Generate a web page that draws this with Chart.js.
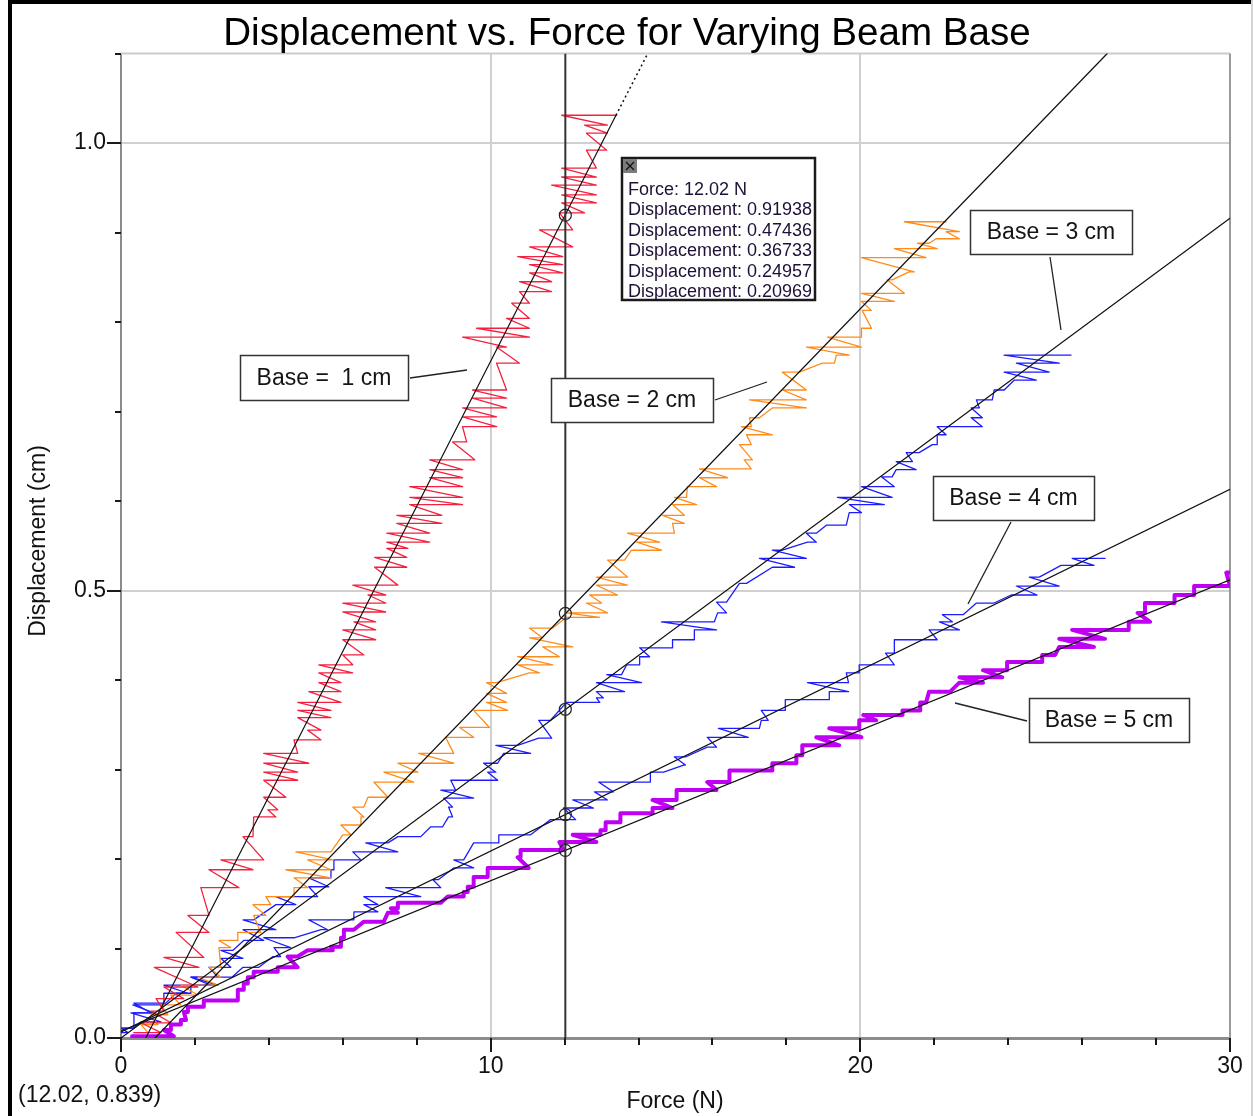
<!DOCTYPE html>
<html><head><meta charset="utf-8">
<script src="https://cdn.jsdelivr.net/npm/chart.js@4.4.1/dist/chart.umd.min.js"></script>
<style>html,body{margin:0;padding:0;background:#fff;}canvas{display:block;}</style>
</head><body>
<canvas id="c" width="1253" height="1116"></canvas>
<script>
// ---------- data ----------
const chartTitle = 'Displacement vs. Force for Varying Beam Base';
const xTitle = 'Force (N)';
const yTitle = 'Displacement (cm)';
const seriesLabels = ['Base =  1 cm', 'Base = 2 cm', 'Base = 3 cm', 'Base = 4 cm', 'Base = 5 cm'];
const cursorForce = 12.02;
const cursorDisp = [0.91938, 0.47436, 0.36733, 0.24957, 0.20969];
const readout = [12.02, 0.839];

// each level: [displacement, force at left end, force at right end]
const base1Levels = [
 [0.006,0.35,1.08],[0.017,0.54,1.35],[0.030,0.81,1.16],[0.044,0.95,1.70],
 [0.057,1.16,2.08],[0.079,0.90,2.11],[0.090,1.16,2.24],[0.118,1.49,2.38],[0.137,1.81,2.38],
 [0.168,2.16,3.19],[0.188,2.38,3.57],[0.199,2.70,3.86],[0.225,3.30,3.57],[0.247,3.59,4.19],
 [0.255,3.97,4.24],[0.269,3.86,4.46],[0.288,3.86,4.78],[0.297,3.86,4.78],[0.307,3.86,5.08],
 [0.318,3.86,4.78],[0.333,4.68,5.41],[0.344,5.05,5.41],[0.358,4.78,5.68],[0.366,4.78,5.68],
 [0.375,4.78,5.95],[0.387,5.08,5.95],[0.397,5.35,5.95],[0.408,5.35,6.27],[0.417,5.35,6.27],
 [0.428,6.00,6.57],[0.445,6.00,6.89],[0.456,6.00,6.89],[0.465,6.30,6.89],[0.476,6.00,7.16],
 [0.486,6.00,7.16],[0.495,6.68,7.16],[0.506,6.27,7.49],[0.526,6.86,7.73],[0.537,6.86,7.73],
 [0.547,7.19,7.76],[0.554,7.19,8.35],[0.564,7.19,8.35],[0.575,7.46,8.68],[0.584,7.46,8.68],
 [0.596,7.81,9.24],[0.604,7.81,9.24],[0.616,7.81,9.24],[0.626,8.35,9.24],[0.635,8.35,9.24],
 [0.646,8.35,9.57],[0.666,8.97,9.35],[0.683,9.24,10.16],[0.694,9.24,10.16],[0.704,9.24,10.43],
 [0.715,9.51,10.43],[0.724,9.51,10.43],[0.754,10.16,10.78],[0.772,10.16,10.43],[0.783,9.24,11.05],
 [0.793,9.62,11.05],[0.804,10.43,11.05],[0.821,10.57,11.05],[0.834,10.78,11.65],[0.845,10.78,11.65],
 [0.855,11.05,11.95],[0.864,11.05,11.95],[0.873,10.73,11.95],[0.884,11.05,12.22],[0.903,11.32,12.22],
 [0.922,11.86,12.54],[0.933,11.92,12.86],[0.942,11.92,12.86],[0.953,11.65,12.86],[0.962,11.92,12.86],
 [0.972,11.92,12.86],[0.992,12.59,13.14],[1.011,12.59,13.16],[1.020,12.54,13.16],[1.031,11.92,13.41]
];
const base2Levels = [
 [0.006,0.35,0.73],[0.015,0.54,1.00],[0.026,0.81,1.27],[0.037,1.08,1.62],[0.048,1.35,2.08],
 [0.059,1.62,2.62],[0.068,2.08,2.70],[0.079,2.38,2.70],[0.101,2.65,2.97],[0.109,2.65,3.16],
 [0.118,3.16,3.78],[0.137,3.59,3.92],[0.149,3.57,4.05],[0.158,3.92,4.68],[0.168,4.68,5.05],
 [0.179,4.68,5.68],[0.188,4.46,5.68],[0.199,5.05,5.73],[0.208,4.73,5.68],[0.227,6.00,6.22],
 [0.238,5.95,6.49],[0.247,6.49,6.57],[0.258,6.27,6.57],[0.269,6.68,7.22],[0.286,6.84,7.92],
 [0.297,7.11,8.03],[0.307,7.49,9.00],[0.318,8.05,9.00],[0.336,8.78,9.54],[0.347,9.16,9.97],
 [0.366,9.54,10.46],[0.375,9.89,10.43],[0.385,9.89,10.43],[0.397,9.89,10.16],[0.408,11.05,11.32],
 [0.417,10.73,11.68],[0.426,10.73,11.86],[0.437,11.41,12.22],[0.447,11.05,11.41],[0.458,11.05,11.68],
 [0.470,12.05,12.95],[0.475,12.05,13.16],[0.486,12.59,13.00],[0.495,12.68,13.43],[0.506,12.86,13.70],
 [0.515,12.86,13.70],[0.534,13.16,13.62],[0.545,13.81,14.62],[0.554,13.95,14.57],[0.564,13.70,14.97],
 [0.575,14.92,15.24],[0.584,14.65,15.24],[0.596,14.92,15.57],[0.604,14.97,15.30],[0.616,15.32,16.11],
 [0.626,15.65,16.41],[0.636,15.65,17.05],[0.646,16.86,17.08],[0.663,16.73,17.05],[0.674,16.92,17.62],
 [0.683,16.78,17.05],[0.693,17.00,17.27],[0.704,17.62,18.54],[0.713,17.00,18.54],[0.724,17.89,18.54],
 [0.744,17.89,18.35],[0.754,18.97,19.30],[0.763,19.35,19.70],[0.772,18.54,20.03],[0.783,19.11,20.03],
 [0.793,20.03,20.30],[0.813,20.05,20.30],[0.823,20.03,20.92],[0.832,20.03,21.19],[0.847,20.73,20.86],
 [0.856,21.32,21.46],[0.872,20.03,21.78],[0.882,20.92,22.08],[0.888,21.54,21.86],[0.893,22.05,22.68],
 [0.901,22.32,22.68],[0.912,21.19,22.32]
];
const base3Levels = [
 [0.006,0.00,0.19],[0.011,0.00,0.35],[0.018,0.54,1.08],[0.028,0.27,0.89],[0.037,0.32,1.16],
 [0.050,1.49,1.81],[0.059,1.16,2.43],[0.068,1.89,2.62],[0.079,2.38,2.97],[0.089,2.70,3.30],
 [0.098,2.70,3.03],[0.109,3.32,3.86],[0.121,3.30,4.19],[0.132,3.30,3.59],[0.149,4.19,4.73],
 [0.158,4.19,5.32],[0.169,5.08,5.62],[0.179,5.08,5.68],[0.188,5.68,5.76],[0.199,5.76,6.49],
 [0.208,6.27,7.49],[0.218,6.62,7.22],[0.225,7.49,8.11],[0.236,8.38,8.70],[0.247,8.86,8.97],
 [0.258,8.86,8.97],[0.268,8.73,9.54],[0.277,8.65,9.05],[0.288,8.92,10.19],[0.297,9.92,10.14],
 [0.307,9.81,10.19],[0.318,10.35,11.08],[0.327,10.14,10.73],[0.335,11.30,11.65],[0.355,11.30,11.62],
 [0.375,12.05,12.95],[0.380,12.86,13.05],[0.387,12.86,13.62],[0.397,12.86,14.08],[0.406,13.14,13.54],
 [0.417,13.68,14.03],[0.426,14.03,14.30],[0.436,14.03,14.92],[0.445,14.92,15.51],[0.456,15.51,16.11],
 [0.465,14.62,16.05],[0.475,16.14,16.38],[0.487,16.11,16.38],[0.508,16.73,16.92],[0.526,17.62,18.22],
 [0.536,17.27,18.54],[0.545,17.62,17.89],[0.554,18.57,18.81],[0.564,18.54,18.81],[0.573,19.08,19.62],
 [0.587,19.70,20.03],[0.596,19.70,20.65],[0.604,19.38,20.86],[0.616,20.03,20.92],[0.627,20.57,20.86],
 [0.635,20.97,21.51],[0.644,20.97,21.41],[0.654,21.24,21.59],[0.663,21.95,22.08],[0.674,22.08,22.32],
 [0.683,22.08,23.30],[0.693,23.00,23.30],[0.704,23.00,23.22],[0.713,23.14,23.57],[0.724,23.62,23.89],
 [0.735,24.16,24.76],[0.744,23.89,25.11],[0.754,24.22,25.38],[0.763,23.89,25.70]
];
const base4Levels = [
 [0.011,0.00,0.35],[0.028,0.35,0.81],[0.039,0.35,1.16],[0.050,1.16,1.89],[0.059,1.89,2.62],
 [0.068,1.89,3.00],[0.079,3.30,3.73],[0.091,4.11,4.32],[0.101,4.14,4.59],[0.112,3.86,4.68],
 [0.121,5.41,5.59],[0.132,5.08,6.30],[0.141,6.30,6.95],[0.149,6.57,6.95],[0.158,6.57,8.11],
 [0.168,7.16,8.65],[0.177,8.43,8.59],[0.190,9.00,9.54],[0.199,9.00,9.27],[0.218,9.54,10.22],
 [0.227,10.22,11.08],[0.244,11.62,12.30],[0.257,11.97,12.78],[0.266,12.22,13.16],[0.275,12.81,13.32],
 [0.286,12.92,14.32],[0.297,14.32,14.68],[0.305,15.22,15.27],[0.314,14.97,15.27],[0.325,15.86,16.11],
 [0.336,15.86,16.97],[0.346,16.16,17.27],[0.355,17.32,17.51],[0.366,17.32,17.97],[0.378,17.97,19.16],
 [0.387,19.16,19.68],[0.397,18.57,19.68],[0.408,19.62,19.97],[0.417,19.97,20.92],[0.430,20.68,20.92],
 [0.445,20.92,22.08],[0.456,21.86,22.68],[0.465,22.14,22.49],[0.473,22.22,22.78],[0.486,23.14,23.62],
 [0.495,24.08,24.78],[0.505,24.22,25.38],[0.515,24.57,24.84],[0.528,25.43,26.32],[0.536,25.73,26.62]
];
const base5Levels = [
 [0.002,0.30,1.43],[0.009,1.16,1.35],[0.015,1.35,1.62],[0.020,1.62,1.76],[0.029,1.70,1.81],
 [0.035,1.81,2.24],[0.042,2.24,3.16],[0.054,3.16,3.32],[0.061,3.32,3.43],[0.068,3.43,3.59],
 [0.074,3.59,4.24],[0.079,4.24,4.78],[0.091,4.51,4.78],[0.098,5.05,5.73],[0.102,5.68,5.95],
 [0.112,5.95,6.03],[0.121,6.03,6.30],[0.130,6.57,7.11],[0.140,7.22,7.49],[0.145,7.30,7.49],
 [0.151,7.49,8.65],[0.158,8.84,9.27],[0.163,9.27,9.38],[0.169,9.38,9.54],[0.180,9.54,9.92],
 [0.190,9.92,11.03],[0.202,10.73,10.81],[0.210,10.81,11.97],[0.219,11.86,12.86],[0.227,12.22,12.97],
 [0.232,12.97,13.11],[0.241,13.11,13.51],[0.251,13.51,14.38],[0.257,14.38,14.92],[0.266,14.38,15.03],
 [0.277,15.03,16.11],[0.286,15.86,16.46],[0.299,16.46,17.62],[0.307,17.62,18.27],[0.316,18.27,18.43],
 [0.327,18.43,19.43],[0.336,18.81,20.03],[0.346,19.16,19.97],[0.355,19.97,20.43],[0.361,20.08,21.14],
 [0.366,21.14,21.62],[0.375,21.62,21.78],[0.387,21.86,22.43],[0.397,22.68,23.32],[0.403,22.68,23.84],
 [0.411,23.32,23.97],[0.420,23.97,24.92],[0.428,24.92,25.27],[0.437,25.38,26.32],[0.446,25.38,26.62],
 [0.456,25.73,27.26],[0.465,27.26,27.84],[0.475,27.50,27.70],[0.486,27.70,28.50],[0.495,28.50,29.03],
 [0.505,29.03,30.00],[0.520,29.90,30.00]
];
// straight-line fits: endpoints [force, displacement]
const fit1 = [[0.67,0],[13.39,1.031]];
const fit1Ext = [[13.39,1.031],[14.25,1.1]];
const fit2 = [[0.92,0],[26.68,1.1]];
const fit3 = [[0,0],[30,0.916]];
const fit4 = [[0,0.0067],[30,0.613]];
const fit5 = [[0,0.0077],[30,0.512]];

// ---------- build datasets ----------
const levelsToPoints = lv => lv.flatMap(([d, a, b]) => [{x:a, y:d}, {x:b, y:d}]);
const pairs = arr => arr.map(([x, y]) => ({x, y}));
const FONT = '"Liberation Sans", Arial, sans-serif';
const seriesColors = ['#f5203f', '#ff8c1a', '#1c1cff', '#1c1cff', '#bf00f5'];
const seriesWidths = [1.3, 1.3, 1.3, 1.3, 4];
const allLevels = [base1Levels, base2Levels, base3Levels, base4Levels, base5Levels];

const lineDs = (data, color, width, extra) => Object.assign({
  data, showLine: true, borderColor: color, borderWidth: width,
  borderJoinStyle: 'round', borderCapStyle: 'round',
  pointRadius: 0, pointHoverRadius: 0, tension: 0, fill: false
}, extra || {});

const datasets = [];
datasets.push({ label: 'cursor points',
  data: cursorDisp.map(v => ({x: cursorForce, y: v})), showLine: false,
  pointRadius: 6, pointStyle: 'circle', pointBorderColor: '#222', pointBackgroundColor: 'rgba(0,0,0,0)',
  pointBorderWidth: 1.2 });
datasets.push(lineDs([{x: cursorForce, y: 0}, {x: cursorForce, y: 1.1}], '#333', 2, {label: 'cursor', borderCapStyle: 'butt'}));
[fit1, fit2, fit3, fit4, fit5].forEach((f, i) => datasets.push(lineDs(pairs(f), '#111', 1.2, {label: 'fit ' + (i+1)})));
datasets.push(lineDs(pairs(fit1Ext), '#111', 1.5, {label: 'fit 1 ext', borderDash: [2, 3], borderCapStyle: 'butt'}));
allLevels.forEach((lv, i) => datasets.push(lineDs(levelsToPoints(lv), seriesColors[i], seriesWidths[i], {label: seriesLabels[i]})));

// ---------- annotation layout (pixels) ----------
const labelBoxes = [
  {box:[240,355,168,45], leader:[410,378,467,370]},
  {box:[551,378,162,44], leader:[715,400,767,382]},
  {box:[970,210,162,44], leader:[1050,257,1061,330]},
  {box:[933,476,161,44], leader:[1011,522,968,604]},
  {box:[1029,698,160,44], leader:[1027,721,955,703]}
];

const deco = {
  id: 'deco',
  beforeDraw(chart) {
    const ctx = chart.ctx;
    ctx.save();
    ctx.fillStyle = '#fff'; ctx.fillRect(0, 0, chart.width, chart.height);
    ctx.fillStyle = '#000';
    ctx.fillRect(8, 0, 4, chart.height);
    ctx.fillRect(8, 0, chart.width - 8, 4);
    ctx.fillStyle = '#d4d4d4';
    ctx.fillRect(chart.width - 2, 0, 2, chart.height);
    ctx.restore();
  },
  beforeDatasetsDraw(chart) {
    const {ctx, chartArea: a} = chart;
    ctx.save();
    ctx.strokeStyle = '#cccccc'; ctx.lineWidth = 2;
    ctx.beginPath(); ctx.moveTo(a.left, a.top); ctx.lineTo(a.right, a.top); ctx.stroke();
    ctx.strokeStyle = '#999'; ctx.lineWidth = 2;
    ctx.beginPath(); ctx.moveTo(a.right, a.top); ctx.lineTo(a.right, a.bottom); ctx.stroke();
    ctx.restore();
  },
  afterDraw(chart) {
    const {ctx, chartArea: a, scales: {x, y}} = chart;
    ctx.save();
    // tick marks
    ctx.strokeStyle = '#1a1a1a'; ctx.lineWidth = 2;
    x.ticks.forEach(t => {
      const px = Math.round(x.getPixelForValue(t.value));
      const major = Math.abs(t.value / 10 - Math.round(t.value / 10)) < 1e-6;
      ctx.beginPath(); ctx.moveTo(px, a.bottom); ctx.lineTo(px, a.bottom + (major ? 14 : 7)); ctx.stroke();
    });
    y.ticks.forEach(t => {
      const py = Math.round(y.getPixelForValue(t.value));
      const major = Math.abs(t.value * 2 - Math.round(t.value * 2)) < 1e-6;
      ctx.beginPath(); ctx.moveTo(a.left, py); ctx.lineTo(a.left - (major ? 14 : 6), py); ctx.stroke();
    });
    // titles
    ctx.fillStyle = '#000';
    ctx.textAlign = 'center'; ctx.textBaseline = 'alphabetic';
    ctx.font = '38.6px ' + FONT;
    ctx.fillText(chartTitle, 627, 45);
    ctx.fillStyle = '#111';
    ctx.font = '23px ' + FONT;
    ctx.fillText(xTitle, 675, 1108);
    ctx.save();
    ctx.translate(45, 541); ctx.rotate(-Math.PI / 2);
    ctx.fillText(yTitle, 0, 0);
    ctx.restore();
    ctx.textAlign = 'left';
    ctx.fillText('(' + readout[0].toFixed(2) + ', ' + readout[1].toFixed(3) + ')', 18, 1102);
    // label boxes
    labelBoxes.forEach((lb, i) => {
      const [bx, by, bw, bh] = lb.box;
      const [x1, y1, x2, y2] = lb.leader;
      ctx.strokeStyle = '#222'; ctx.lineWidth = 1.3;
      ctx.beginPath(); ctx.moveTo(x1, y1); ctx.lineTo(x2, y2); ctx.stroke();
      ctx.fillStyle = '#fff'; ctx.fillRect(bx, by, bw, bh);
      ctx.strokeStyle = '#333'; ctx.lineWidth = 1.5;
      ctx.strokeRect(bx + 0.5, by + 0.5, bw, bh);
      ctx.fillStyle = '#141414'; ctx.font = '23px ' + FONT;
      ctx.textAlign = 'center'; ctx.textBaseline = 'middle';
      ctx.fillText(seriesLabels[i], bx + bw / 2, by + bh / 2 + 1);
    });
    // cursor readout box
    ctx.fillStyle = '#fff'; ctx.fillRect(622, 158, 193, 142);
    ctx.strokeStyle = '#1a1a1a'; ctx.lineWidth = 2.5;
    ctx.strokeRect(622, 158, 193, 142);
    ctx.fillStyle = '#7c7c7c'; ctx.fillRect(623, 159, 14, 14);
    ctx.strokeStyle = '#111'; ctx.lineWidth = 1.3;
    ctx.beginPath(); ctx.moveTo(626, 162); ctx.lineTo(634, 170); ctx.moveTo(634, 162); ctx.lineTo(626, 170); ctx.stroke();
    ctx.fillStyle = '#1e1038'; ctx.font = '18px ' + FONT;
    ctx.textAlign = 'left'; ctx.textBaseline = 'alphabetic';
    const lines = ['Force: ' + cursorForce.toFixed(2) + ' N'].concat(cursorDisp.map(v => 'Displacement: ' + v.toFixed(5)));
    lines.forEach((s, i) => ctx.fillText(s, 628, 195 + i * 20.4));
    ctx.restore();
  }
};

new Chart(document.getElementById('c'), {
  type: 'scatter',
  data: { datasets },
  options: {
    responsive: false, animation: false, events: [],
    layout: { padding: { top: 53.5, right: 23, left: 0, bottom: 0 } },
    plugins: { legend: { display: false }, tooltip: { enabled: false }, title: { display: false } },
    scales: {
      x: {
        type: 'linear', min: 0, max: 30,
        afterFit: s => { s.height = 78; s.paddingLeft = 0; s.paddingRight = 0; },
        ticks: { stepSize: 2, autoSkip: false, maxRotation: 0, padding: 15, color: '#111',
          font: { family: FONT, size: 23 },
          callback: v => (Math.abs(v / 10 - Math.round(v / 10)) < 1e-6 ? String(Math.round(v)) : '') },
        grid: { drawTicks: false, lineWidth: 2,
          color: c => { const v = c.tick ? c.tick.value : 0; return (v === 10 || v === 20) ? '#d0d0d0' : 'rgba(0,0,0,0)'; } },
        border: { display: true, color: '#8c8c8c', width: 3 }
      },
      y: {
        type: 'linear', min: 0, max: 1.1,
        afterFit: s => { s.width = 121; s.paddingTop = 0; s.paddingBottom = 0; },
        ticks: { stepSize: 0.1, autoSkip: false, padding: 15, color: '#111',
          font: { family: FONT, size: 23 },
          callback: v => (Math.abs(v * 2 - Math.round(v * 2)) < 1e-6 ? v.toFixed(1) : '') },
        grid: { drawTicks: false, lineWidth: 2,
          color: c => { const v = c.tick ? c.tick.value : 0; return (Math.abs(v - 0.5) < 1e-6 || Math.abs(v - 1) < 1e-6) ? '#d0d0d0' : 'rgba(0,0,0,0)'; } },
        border: { display: true, color: '#8c8c8c', width: 2 }
      }
    }
  },
  plugins: [deco]
});
</script>
</body></html>
